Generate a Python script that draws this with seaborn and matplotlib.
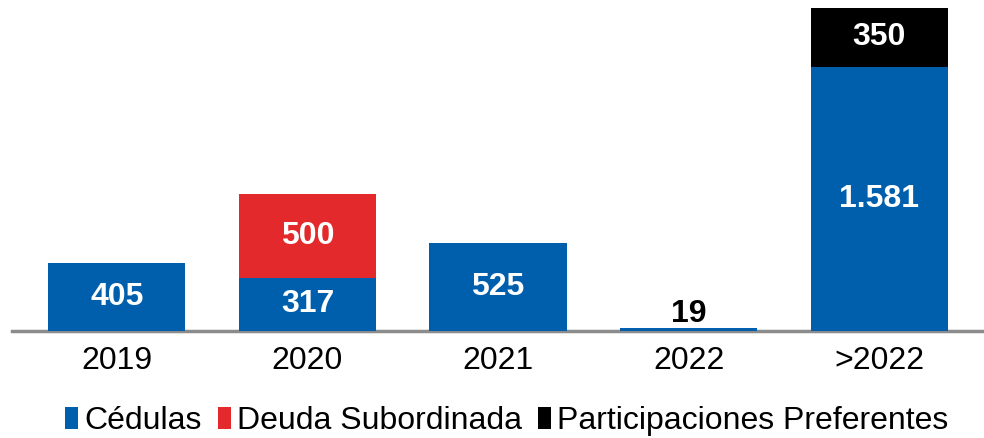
import pandas as pd
import seaborn as sns
import matplotlib.pyplot as plt

# Chart data
years = ["2019", "2020", "2021", "2022", ">2022"]
cedulas = [405, 317, 525, 19, 1581]
deuda = [0, 500, 0, 0, 0]
preferentes = [0, 0, 0, 0, 350]
series_names = ["Cédulas", "Deuda Subordinada", "Participaciones Preferentes"]

colors = ["#005FAD", "#E3292B", "#000000"]

sns.set_style("white")
plt.rcParams['font.family'] = ['Liberation Sans', 'DejaVu Sans']
plt.rcParams['text.color'] = 'black'

fig = plt.figure(figsize=(9.84, 4.38), dpi=100)
ax = fig.add_axes([12 / 984, 1 - 331 / 438, 972 / 984, 323 / 438])

data = pd.DataFrame({"year": years, "ced": cedulas, "deu": deuda, "pre": preferentes})
bottom2 = [c + d for c, d in zip(cedulas, deuda)]

sns.barplot(data=data, x="year", y="ced", color=colors[0], width=0.72,
            saturation=1, ax=ax, label=series_names[0], linewidth=0)
sns.barplot(data=data, x="year", y="deu", color=colors[1], width=0.72,
            saturation=1, ax=ax, bottom=cedulas, label=series_names[1], linewidth=0)
sns.barplot(data=data, x="year", y="pre", color=colors[2], width=0.72,
            saturation=1, ax=ax, bottom=bottom2, label=series_names[2], linewidth=0)

# value labels
for i in range(len(years)):
    base = 0
    for vals in (cedulas, deuda, preferentes):
        v = vals[i]
        if v > 0:
            if v < 100:
                ax.text(i, base + v - 6, str(v), ha="center", va="bottom",
                        fontsize=23, fontweight="bold", color="black")
            else:
                ax.text(i, base + v / 2, f"{v:,}".replace(",", "."), ha="center",
                        va="center", fontsize=23, fontweight="bold", color="white")
        base += v

ax.set_xlim(-0.55, 4.55)
ax.set_ylim(0, 1931)
ax.set_xlabel("")
ax.set_ylabel("")
ax.set_yticks([])
ax.tick_params(axis="x", labelsize=23, length=0, pad=11, labelcolor="black")
for s in ["top", "right", "left"]:
    ax.spines[s].set_visible(False)
ax.spines["bottom"].set_color("#8C8C8C")
ax.spines["bottom"].set_linewidth(2.5)
ax.spines["bottom"].set_zorder(0)

leg = fig.legend(*ax.get_legend_handles_labels(), loc="center",
                 bbox_to_anchor=(0.515, 1 - 421 / 438), ncol=3, frameon=False,
                 fontsize=23, handlelength=0.4, handleheight=0.7,
                 handletextpad=0.2, columnspacing=0.5, labelcolor="black")
if ax.get_legend() is not None:
    ax.get_legend().remove()

fig.savefig("out.png", dpi=100)
